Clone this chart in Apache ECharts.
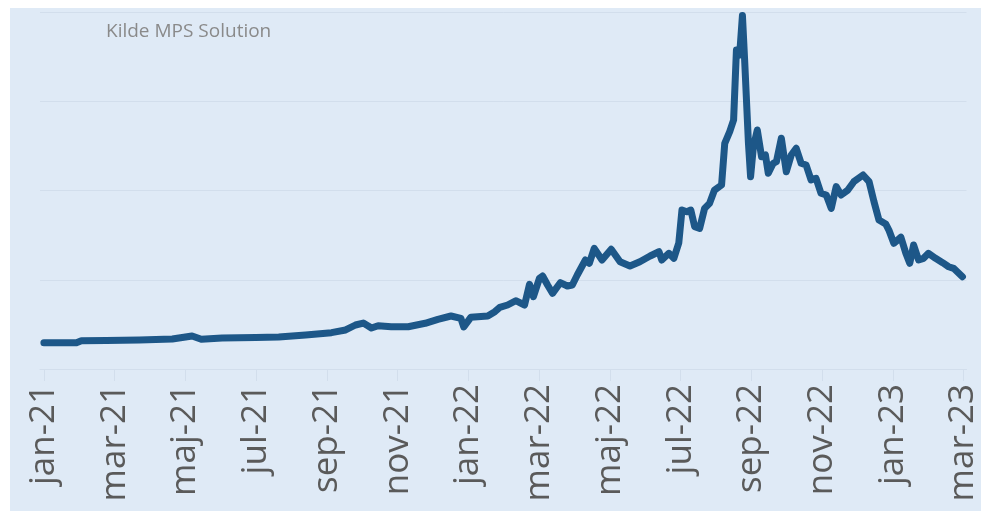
<!DOCTYPE html>
<html>
<head>
<meta charset="utf-8">
<script src="https://cdn.jsdelivr.net/npm/echarts@6/dist/echarts.min.js"></script>
<style>
html,body{margin:0;padding:0;background:#ffffff;}
#c{width:981px;height:511px;}
</style>
</head>
<body>
<div id="c"></div>
<script>
// Month positions (0 = jan-21, 26 = mar-23)
const monthPos = [0,0.92,1.06,1.76,2.70,3.63,4.19,4.45,5.04,5.99,6.64,7.40,8.13,8.53,8.81,9.03,9.17,9.26,9.45,9.82,10.30,10.78,11.14,11.51,11.79,11.87,12.07,12.55,12.75,12.89,13.11,13.34,13.59,13.73,13.84,14.01,14.10,14.24,14.38,14.60,14.80,14.94,15.08,15.31,15.42,15.56,15.78,16.04,16.29,16.57,16.85,17.14,17.39,17.47,17.67,17.81,17.95,18.04,18.18,18.29,18.40,18.54,18.68,18.82,18.96,19.16,19.25,19.39,19.50,19.58,19.67,19.75,19.81,19.92,19.98,20.06,20.17,20.29,20.40,20.48,20.62,20.71,20.85,20.99,21.13,21.27,21.41,21.55,21.69,21.83,21.97,22.12,22.26,22.40,22.54,22.73,22.90,23.16,23.33,23.47,23.61,23.80,23.89,24.03,24.23,24.37,24.48,24.59,24.73,24.87,25.01,25.21,25.41,25.58,25.72,25.97];
const priceValues = [29.5,29.5,31.7,31.9,32.5,33.6,37.0,33.3,34.7,35.3,35.9,38.1,40.7,43.7,49.3,51.5,48.2,45.9,48.5,47.4,47.4,51.2,55.7,59.4,56.8,47.1,57.9,59.4,64.2,69.1,71.7,76.5,71.7,94.9,81.0,101.6,104.2,94.1,84.8,96.7,93.0,94.1,105.3,122.1,118.4,135.2,122.1,134.1,120.2,115.4,120.2,126.6,131.4,122.1,129.6,124.0,141.2,178.1,176.2,178.1,159.4,157.6,180.0,185.6,200.5,206.2,252.9,265.9,279.0,357.4,351.8,396.0,348.1,252.9,215.5,249.1,267.8,237.9,239.8,219.3,230.5,232.3,258.5,221.1,239.8,247.3,230.5,228.6,211.8,213.7,196.9,195.0,180.0,204.3,195.0,200.5,209.9,217.4,209.9,187.4,166.9,162.5,155.7,140.8,147.6,129.6,118.4,138.9,122.1,124.0,129.6,124.0,119.1,114.6,112.8,103.4];
const tickPositions = [0,2,4,6,8,10,12,14,16,18,20,22,24,26];
const tickLabels = ['jan-21','mar-21','maj-21','jul-21','sep-21','nov-21','jan-22','mar-22','maj-22','jul-22','sep-22','nov-22','jan-23','mar-23'];
const sourceText = 'Kilde MPS Solution';

const seriesData = monthPos.map((m, i) => [m, priceValues[i]]);
const gridColor = '#d2deec';

const chart = echarts.init(document.getElementById('c'), null, {renderer: 'canvas'});
chart.setOption({
  backgroundColor: '#ffffff',
  animation: false,
  graphic: [
    {type: 'rect', z: -10, silent: true, shape: {x: 10, y: 8, width: 971, height: 503}, style: {fill: '#dfeaf6'}},
    {type: 'text', left: 106, top: 22, z: 10, style: {text: sourceText, fill: '#8a8a8a', font: '19px "Open Sans"'}}
  ],
  grid: {left: 40, right: 10, top: 12, bottom: 142, containLabel: false},
  xAxis: {
    type: 'value',
    min: -0.11,
    max: 26.085,
    axisLine: {show: true, lineStyle: {color: gridColor, width: 1}},
    axisTick: {show: true, customValues: tickPositions, length: 12, lineStyle: {color: gridColor}},
    axisLabel: {
      customValues: tickPositions,
      rotate: 90,
      margin: 15,
      color: '#5a5a5a',
      fontFamily: 'Open Sans',
      fontSize: 35,
      formatter: function (v) {
        const idx = tickPositions.indexOf(Math.round(v));
        return idx >= 0 ? tickLabels[idx] : '';
      }
    },
    splitLine: {show: false}
  },
  yAxis: {
    type: 'value',
    min: 0,
    max: 400,
    interval: 100,
    axisLine: {show: false},
    axisTick: {show: false},
    axisLabel: {show: false},
    splitLine: {show: true, lineStyle: {color: gridColor, width: 1}}
  },
  series: [{
    type: 'line',
    data: seriesData,
    showSymbol: false,
    clip: false,
    smooth: false,
    lineStyle: {color: '#1d5788', width: 7, join: 'round', cap: 'round'}
  }]
});
</script>
</body>
</html>
